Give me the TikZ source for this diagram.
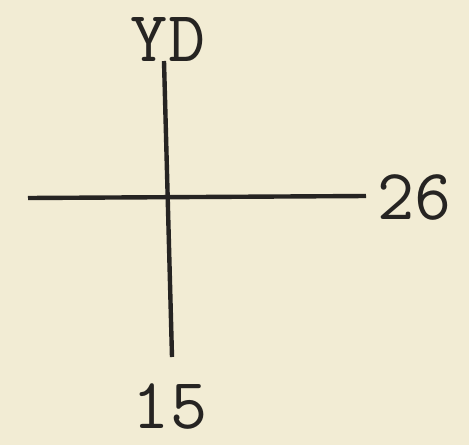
\documentclass[tikz,border=0pt]{standalone}
\usepackage{fontspec}
\usetikzlibrary{positioning}
\definecolor{PaperTone}{RGB}{242,236,212}
\definecolor{InkGray}{RGB}{38,36,34}
\tikzset{
  axis/.style={draw=InkGray,line width=4.4pt},
  tag/.style={text=InkGray,inner sep=0pt,font=\ttfamily\fontsize{72}{72}\selectfont}
}

\begin{document}
\begin{tikzpicture}[x=1pt,y=-1pt]
  \fill[PaperTone] (0,0) rectangle (469,445);
  \useasboundingbox (0,0) rectangle (469,445);
  \node[tag] (yd) at (168,40) {YD};
  \node[tag,anchor=west] (rt) at (377,197) {26};
  \node[tag] (bt) at (170,406) {15};
  \coordinate (vtop) at (164,61);
  \coordinate (vbot) at (172,357);
  \coordinate (hleft) at (28,198);
  \coordinate (hright) at (366,196);
  \draw[axis] (vtop) -- (vbot);
  \draw[axis] (hleft) -- (hright);
\end{tikzpicture}
\end{document}
